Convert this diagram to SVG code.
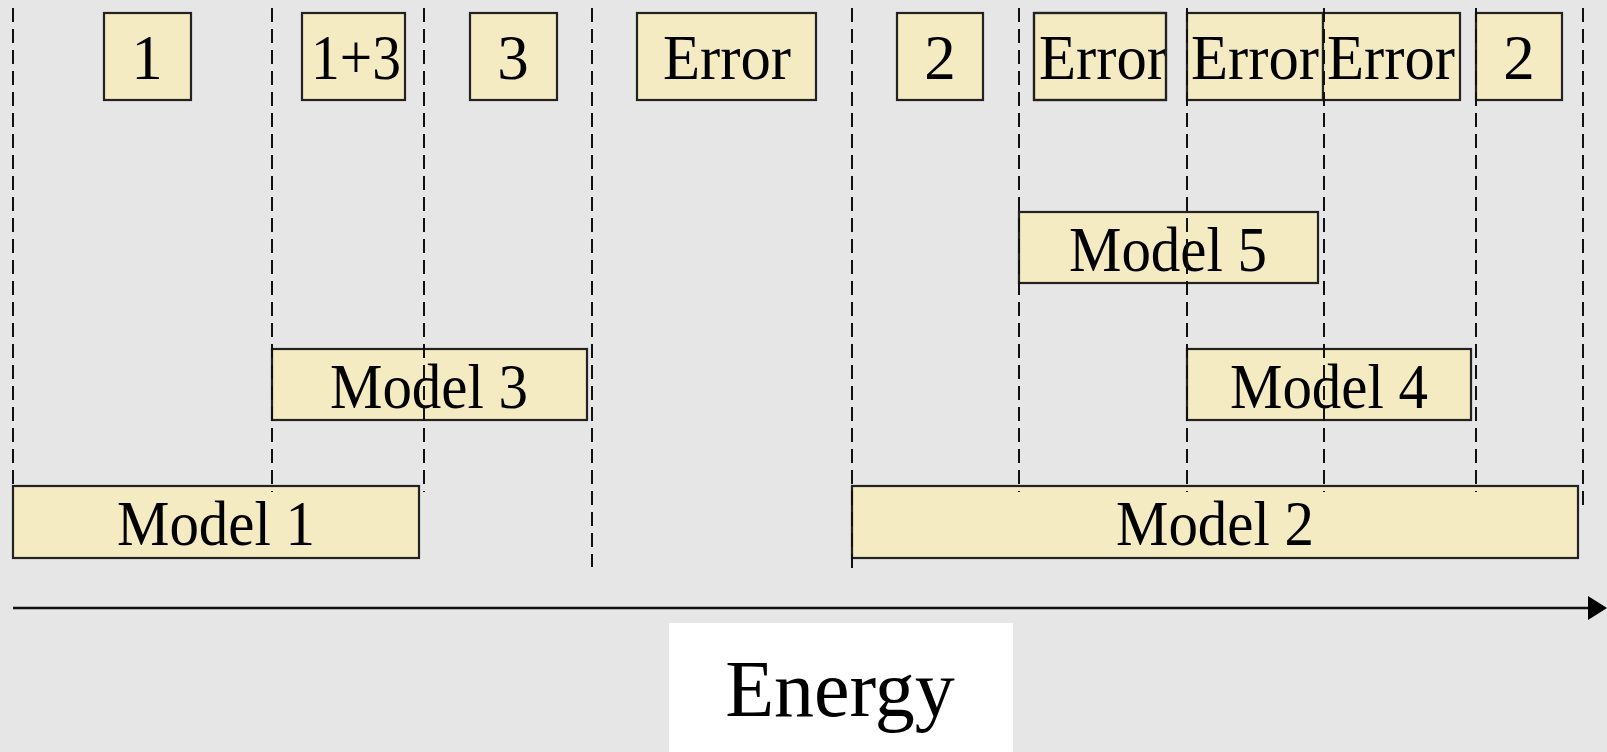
<svg xmlns="http://www.w3.org/2000/svg" width="1607" height="752" viewBox="0 0 1607 752">
  <style>
    .bg { fill: #e6e6e6; }
    .box { fill: #f5ebc3; stroke: #222; stroke-width: 2.2; }
    .lbl { font-family: "Liberation Serif", "Times New Roman", serif; font-size: 63px; fill: #000; text-anchor: middle; }
    .grid { stroke: #111; stroke-width: 2; stroke-dasharray: 14 7; fill: none; }
    .axis { stroke: #111; stroke-width: 2.4; fill: none; }
  </style>
  <defs>
    <clipPath id="clipErr2"><rect x="1034" y="13" width="132" height="87"/></clipPath>
  </defs>
  <rect class="bg" x="0" y="0" width="1607" height="752"/>

  <g id="nodes-bottom">
    <g id="model1"><rect class="box" x="13" y="486" width="406" height="72"/><text class="lbl" x="216" y="545" textLength="198" lengthAdjust="spacingAndGlyphs">Model 1</text></g>
    <g id="model2"><rect class="box" x="852" y="486" width="726" height="72"/><text class="lbl" x="1215" y="545" textLength="198" lengthAdjust="spacingAndGlyphs">Model 2</text></g>
    <g id="model3"><rect class="box" x="272" y="349" width="315" height="71"/><text class="lbl" x="429" y="408" textLength="198" lengthAdjust="spacingAndGlyphs">Model 3</text></g>
    <g id="model4"><rect class="box" x="1187" y="349" width="284" height="71"/><text class="lbl" x="1329" y="408" textLength="198" lengthAdjust="spacingAndGlyphs">Model 4</text></g>
    <g id="model5"><rect class="box" x="1019" y="212" width="299" height="71"/><text class="lbl" x="1168" y="271" textLength="198" lengthAdjust="spacingAndGlyphs">Model 5</text></g>
  </g>

  <g id="nodes-top">
    <g id="t1"><rect class="box" x="104" y="13" width="87" height="87"/><text class="lbl" x="147" y="79">1</text></g>
    <g id="t13"><rect class="box" x="302" y="13" width="103" height="87"/><text class="lbl" x="356" y="79" textLength="90" lengthAdjust="spacingAndGlyphs">1+3</text></g>
    <g id="t3"><rect class="box" x="470" y="13" width="87" height="87"/><text class="lbl" x="513" y="79">3</text></g>
    <g id="terr1"><rect class="box" x="637" y="13" width="179" height="87"/><text class="lbl" x="727" y="79" textLength="128" lengthAdjust="spacingAndGlyphs">Error</text></g>
    <g id="t2a"><rect class="box" x="897" y="13" width="86" height="87"/><text class="lbl" x="940" y="79">2</text></g>
    <g id="terr2"><rect class="box" x="1034" y="13" width="132" height="87"/><text class="lbl" x="1103" y="79" textLength="128" lengthAdjust="spacingAndGlyphs" clip-path="url(#clipErr2)">Error</text><rect x="1034" y="13" width="132" height="87" fill="none" stroke="#222" stroke-width="2.2"/></g>
    <g id="terr3"><rect class="box" x="1187" y="13" width="136" height="87"/><text class="lbl" x="1255" y="79" textLength="128" lengthAdjust="spacingAndGlyphs">Error</text></g>
    <g id="terr4"><rect class="box" x="1323" y="13" width="137" height="87"/><text class="lbl" x="1391" y="79" textLength="128" lengthAdjust="spacingAndGlyphs">Error</text></g>
    <g id="t2b"><rect class="box" x="1476" y="13" width="86" height="87"/><text class="lbl" x="1519" y="79">2</text></g>
  </g>

  <g id="connectors">
    <line class="grid" x1="13" y1="8" x2="13" y2="486"/>
    <line class="grid" x1="272" y1="8" x2="272" y2="492"/>
    <line class="grid" x1="424" y1="8" x2="424" y2="492"/>
    <line class="grid" x1="592" y1="8" x2="592" y2="567"/>
    <line class="grid" x1="852" y1="8" x2="852" y2="568"/>
    <line class="grid" x1="1019" y1="8" x2="1019" y2="492"/>
    <line class="grid" x1="1187" y1="8" x2="1187" y2="492"/>
    <line class="grid" x1="1324" y1="8" x2="1324" y2="492"/>
    <line class="grid" x1="1476" y1="8" x2="1476" y2="492"/>
    <line class="grid" x1="1583" y1="8" x2="1583" y2="507"/>
    <line class="axis" x1="13" y1="608" x2="1590" y2="608"/>
    <polygon points="1588,596 1607,608 1588,620" fill="#000"/>
  </g>

  <g id="energy">
    <rect x="669" y="623" width="344" height="129" fill="#ffffff"/>
    <text x="840" y="716" font-family="Liberation Serif, Times New Roman, serif" font-size="80" text-anchor="middle" fill="#000">Energy</text>
  </g>
</svg>
